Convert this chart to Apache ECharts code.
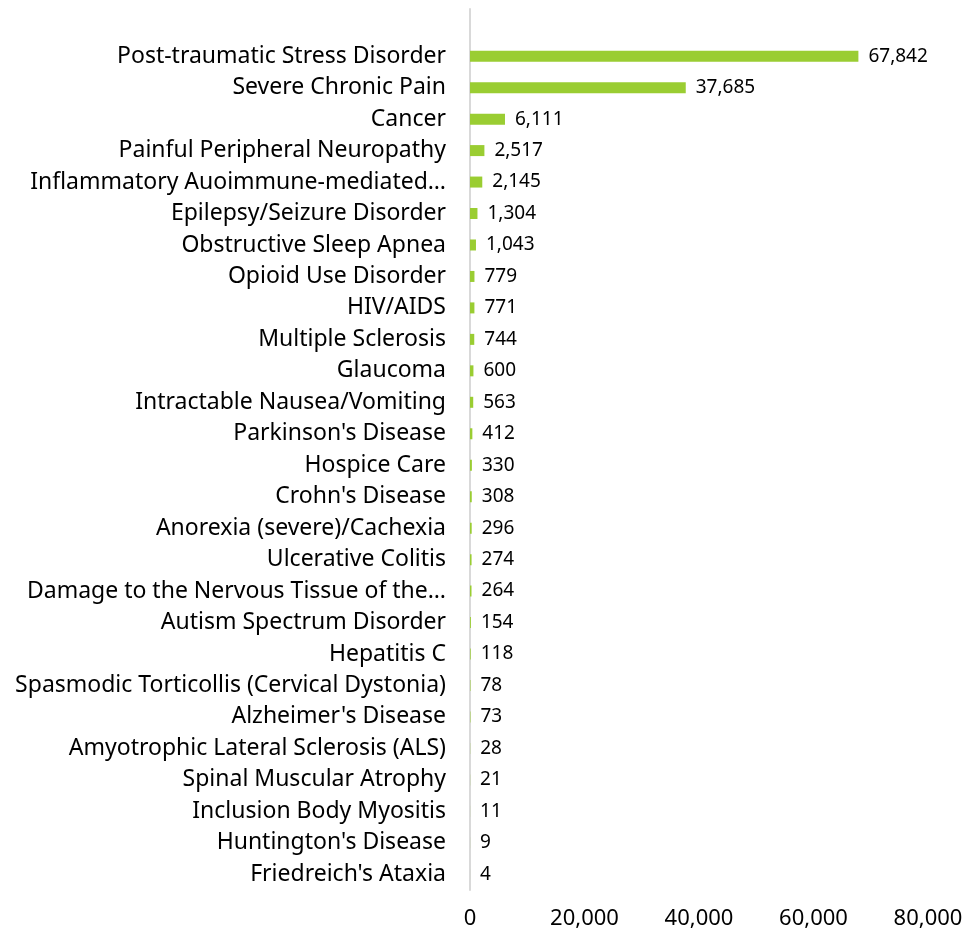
<!DOCTYPE html>
<html>
<head>
<meta charset="utf-8">
<script src="https://cdn.jsdelivr.net/npm/echarts@6/dist/echarts.min.js"></script>
<style>
  html, body { margin: 0; padding: 0; background: #fff; }
  #chart { width: 967px; height: 939px; }
</style>
</head>
<body>
<div id="chart"></div>
<script>
// conditions, top to bottom (first entry is the empty slot above the first bar)
const conditions = [
  '',
  'Post-traumatic Stress Disorder',
  'Severe Chronic Pain',
  'Cancer',
  'Painful Peripheral Neuropathy',
  'Inflammatory Auoimmune-mediated\u2026',
  'Epilepsy/Seizure Disorder',
  'Obstructive Sleep Apnea',
  'Opioid Use Disorder',
  'HIV/AIDS',
  'Multiple Sclerosis',
  'Glaucoma',
  'Intractable Nausea/Vomiting',
  "Parkinson's Disease",
  'Hospice Care',
  "Crohn's Disease",
  'Anorexia (severe)/Cachexia',
  'Ulcerative Colitis',
  'Damage to the Nervous Tissue of the\u2026',
  'Autism Spectrum Disorder',
  'Hepatitis C',
  'Spasmodic Torticollis (Cervical Dystonia)',
  "Alzheimer's Disease",
  'Amyotrophic Lateral Sclerosis (ALS)',
  'Spinal Muscular Atrophy',
  'Inclusion Body Myositis',
  "Huntington's Disease",
  "Friedreich's Ataxia"
];
const patients = [
  null,
  67842, 37685, 6111, 2517, 2145, 1304, 1043, 779, 771, 744, 600, 563,
  412, 330, 308, 296, 274, 264, 154, 118, 78, 73, 28, 21, 11, 9, 4
];
const xTicks = { min: 0, max: 80000, interval: 20000 };

const chart = echarts.init(document.getElementById('chart'));
const font = 'Noto Sans';

chart.setOption({
  animation: false,
  backgroundColor: '#fff',
  grid: { left: 470, right: 39, top: 9, bottom: 49, containLabel: false },
  xAxis: {
    type: 'value',
    min: xTicks.min,
    max: xTicks.max,
    interval: xTicks.interval,
    splitLine: { show: false },
    axisLine: { show: false },
    axisTick: { show: false },
    axisLabel: {
      margin: 18,
      color: '#000',
      fontFamily: font,
      fontSize: 22,
      formatter: v => v.toLocaleString('en-US')
    }
  },
  yAxis: {
    type: 'category',
    inverse: true,
    data: conditions,
    axisLine: { show: true, lineStyle: { color: '#d9d9d9', width: 2 } },
    axisTick: { show: false },
    axisLabel: {
      margin: 24,
      color: '#000',
      fontFamily: font,
      fontSize: 23
    }
  },
  series: [{
    type: 'bar',
    data: patients,
    barWidth: 11,
    itemStyle: { color: '#9acd32' },
    label: {
      show: true,
      position: 'right',
      distance: 10,
      color: '#000',
      fontFamily: font,
      fontSize: 19,
      formatter: p => p.value == null ? '' : p.value.toLocaleString('en-US')
    }
  }]
});
</script>
</body>
</html>
